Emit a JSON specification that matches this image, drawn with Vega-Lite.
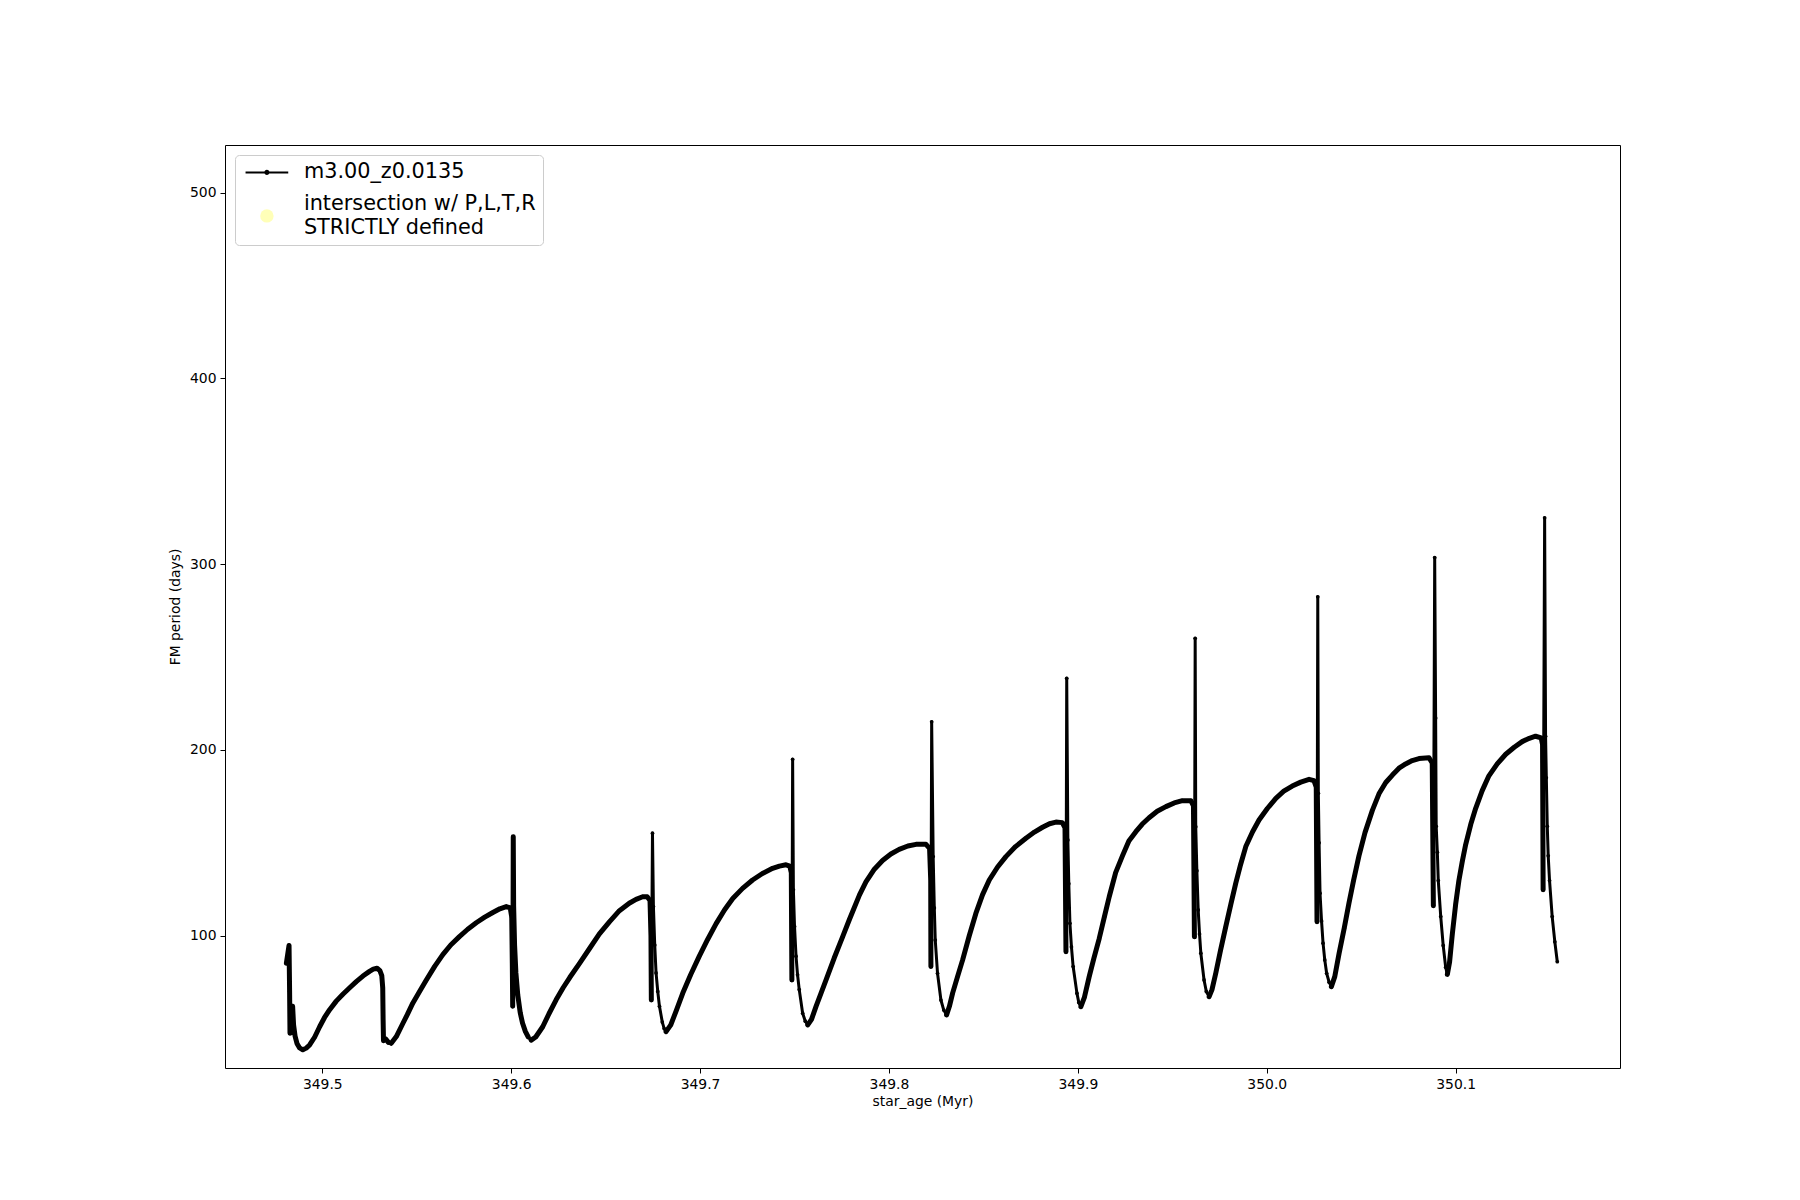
{
  "$schema": "https://vega.github.io/schema/vega-lite/v6.json",
  "width": 1395,
  "height": 923,
  "autosize": {"type": "none"},
  "padding": {"left": 225, "top": 145, "right": 180, "bottom": 132},
  "background": "white",
  "config": {
    "view": {"stroke": "black", "strokeWidth": 1},
    "font": "DejaVu Sans",
    "axis": {"grid": false, "domain": false, "tickColor": "black", "tickSize": 5, "tickWidth": 1, "labelColor": "black", "labelFontSize": 13.9, "labelFont": "DejaVu Sans", "titleFont": "DejaVu Sans", "titleFontSize": 13.9, "titleFontWeight": "normal", "titleColor": "black", "labelPadding": 4}
  },
  "data": {"values": [
    {"age": 349.4810, "period": 85.2, "cycle": 1, "phase": "interpulse"},
    {"age": 349.4824, "period": 94.8, "cycle": 1, "phase": "interpulse"},
    {"age": 349.4827, "period": 70, "cycle": 1, "phase": "interpulse"},
    {"age": 349.4829, "period": 47.5, "cycle": 1, "phase": "interpulse"},
    {"age": 349.4836, "period": 58, "cycle": 1, "phase": "interpulse"},
    {"age": 349.4843, "period": 62, "cycle": 1, "phase": "interpulse"},
    {"age": 349.4848, "period": 52, "cycle": 1, "phase": "interpulse"},
    {"age": 349.4856, "period": 46, "cycle": 1, "phase": "interpulse"},
    {"age": 349.4866, "period": 42, "cycle": 1, "phase": "interpulse"},
    {"age": 349.4880, "period": 39.6, "cycle": 1, "phase": "interpulse"},
    {"age": 349.4897, "period": 38.6, "cycle": 1, "phase": "interpulse"},
    {"age": 349.4915, "period": 39.5, "cycle": 1, "phase": "interpulse"},
    {"age": 349.4933, "period": 41.2, "cycle": 1, "phase": "interpulse"},
    {"age": 349.4960, "period": 45.5, "cycle": 1, "phase": "interpulse"},
    {"age": 349.4986, "period": 51, "cycle": 1, "phase": "interpulse"},
    {"age": 349.5012, "period": 56, "cycle": 1, "phase": "interpulse"},
    {"age": 349.5039, "period": 60.2, "cycle": 1, "phase": "interpulse"},
    {"age": 349.5074, "period": 64.8, "cycle": 1, "phase": "interpulse"},
    {"age": 349.5109, "period": 68.5, "cycle": 1, "phase": "interpulse"},
    {"age": 349.5145, "period": 72, "cycle": 1, "phase": "interpulse"},
    {"age": 349.5180, "period": 75.3, "cycle": 1, "phase": "interpulse"},
    {"age": 349.5215, "period": 78.3, "cycle": 1, "phase": "interpulse"},
    {"age": 349.5250, "period": 80.8, "cycle": 1, "phase": "interpulse"},
    {"age": 349.5270, "period": 82, "cycle": 1, "phase": "interpulse"},
    {"age": 349.5290, "period": 82.5, "cycle": 1, "phase": "interpulse"},
    {"age": 349.5305, "period": 81.2, "cycle": 1, "phase": "interpulse"},
    {"age": 349.5315, "period": 78.5, "cycle": 1, "phase": "interpulse"},
    {"age": 349.5320, "period": 72, "cycle": 1, "phase": "interpulse"},
    {"age": 349.5322, "period": 55, "cycle": 1, "phase": "interpulse"},
    {"age": 349.5324, "period": 43.5, "cycle": 1, "phase": "interpulse"},
    {"age": 349.5335, "period": 44.5, "cycle": 1, "phase": "interpulse"},
    {"age": 349.5350, "period": 42.6, "cycle": 1, "phase": "interpulse"},
    {"age": 349.5365, "period": 42.1, "cycle": 2, "phase": "interpulse"},
    {"age": 349.5392, "period": 45.7, "cycle": 2, "phase": "interpulse"},
    {"age": 349.5427, "period": 52.9, "cycle": 2, "phase": "interpulse"},
    {"age": 349.5450, "period": 57.5, "cycle": 2, "phase": "interpulse"},
    {"age": 349.5479, "period": 63.7, "cycle": 2, "phase": "interpulse"},
    {"age": 349.5515, "period": 70, "cycle": 2, "phase": "interpulse"},
    {"age": 349.5550, "period": 76, "cycle": 2, "phase": "interpulse"},
    {"age": 349.5595, "period": 83.5, "cycle": 2, "phase": "interpulse"},
    {"age": 349.5638, "period": 89.8, "cycle": 2, "phase": "interpulse"},
    {"age": 349.5680, "period": 95, "cycle": 2, "phase": "interpulse"},
    {"age": 349.5726, "period": 99.5, "cycle": 2, "phase": "interpulse"},
    {"age": 349.5770, "period": 103.5, "cycle": 2, "phase": "interpulse"},
    {"age": 349.5815, "period": 107, "cycle": 2, "phase": "interpulse"},
    {"age": 349.5860, "period": 110, "cycle": 2, "phase": "interpulse"},
    {"age": 349.5903, "period": 112.5, "cycle": 2, "phase": "interpulse"},
    {"age": 349.5940, "period": 114.5, "cycle": 2, "phase": "interpulse"},
    {"age": 349.5974, "period": 115.7, "cycle": 2, "phase": "interpulse"},
    {"age": 349.5995, "period": 115, "cycle": 2, "phase": "interpulse"},
    {"age": 349.6003, "period": 110, "cycle": 2, "phase": "interpulse"},
    {"age": 349.6006, "period": 85, "cycle": 2, "phase": "interpulse"},
    {"age": 349.6008, "period": 62, "cycle": 2, "phase": "interpulse"},
    {"age": 349.6010, "period": 110, "cycle": 2, "phase": "interpulse"},
    {"age": 349.6011, "period": 153.3, "cycle": 2, "phase": "interpulse"},
    {"age": 349.6013, "period": 116, "cycle": 2, "phase": "interpulse"},
    {"age": 349.6018, "period": 95, "cycle": 2, "phase": "interpulse"},
    {"age": 349.6025, "period": 80, "cycle": 2, "phase": "interpulse"},
    {"age": 349.6035, "period": 68, "cycle": 2, "phase": "interpulse"},
    {"age": 349.6048, "period": 58.5, "cycle": 2, "phase": "interpulse"},
    {"age": 349.6060, "period": 53, "cycle": 2, "phase": "interpulse"},
    {"age": 349.6075, "period": 48.5, "cycle": 2, "phase": "interpulse"},
    {"age": 349.6090, "period": 45.5, "cycle": 2, "phase": "interpulse"},
    {"age": 349.6106, "period": 43.8, "cycle": 3, "phase": "interpulse"},
    {"age": 349.6130, "period": 45.5, "cycle": 3, "phase": "interpulse"},
    {"age": 349.6167, "period": 51, "cycle": 3, "phase": "interpulse"},
    {"age": 349.6200, "period": 58, "cycle": 3, "phase": "interpulse"},
    {"age": 349.6238, "period": 65.5, "cycle": 3, "phase": "interpulse"},
    {"age": 349.6275, "period": 72, "cycle": 3, "phase": "interpulse"},
    {"age": 349.6310, "period": 77.5, "cycle": 3, "phase": "interpulse"},
    {"age": 349.6361, "period": 85, "cycle": 3, "phase": "interpulse"},
    {"age": 349.6414, "period": 93, "cycle": 3, "phase": "interpulse"},
    {"age": 349.6467, "period": 101, "cycle": 3, "phase": "interpulse"},
    {"age": 349.6520, "period": 107.5, "cycle": 3, "phase": "interpulse"},
    {"age": 349.6573, "period": 113.5, "cycle": 3, "phase": "interpulse"},
    {"age": 349.6625, "period": 117.5, "cycle": 3, "phase": "interpulse"},
    {"age": 349.6661, "period": 119.6, "cycle": 3, "phase": "interpulse"},
    {"age": 349.6696, "period": 121, "cycle": 3, "phase": "interpulse"},
    {"age": 349.6720, "period": 121, "cycle": 3, "phase": "interpulse"},
    {"age": 349.6735, "period": 119, "cycle": 3, "phase": "interpulse"},
    {"age": 349.6740, "period": 100, "cycle": 3, "phase": "interpulse"},
    {"age": 349.6742, "period": 65.4, "cycle": 3, "phase": "interpulse"},
    {"age": 349.6748, "period": 155.2, "cycle": 3, "phase": "pulse"},
    {"age": 349.6753, "period": 115.7, "cycle": 3, "phase": "pulse"},
    {"age": 349.6760, "period": 95, "cycle": 3, "phase": "pulse"},
    {"age": 349.6767, "period": 80, "cycle": 3, "phase": "pulse"},
    {"age": 349.6776, "period": 70, "cycle": 3, "phase": "pulse"},
    {"age": 349.6785, "period": 62, "cycle": 3, "phase": "pulse"},
    {"age": 349.6800, "period": 53.5, "cycle": 3, "phase": "pulse"},
    {"age": 349.6810, "period": 50, "cycle": 3, "phase": "pulse"},
    {"age": 349.6820, "period": 48.4, "cycle": 4, "phase": "interpulse"},
    {"age": 349.6845, "period": 52, "cycle": 4, "phase": "interpulse"},
    {"age": 349.6875, "period": 60, "cycle": 4, "phase": "interpulse"},
    {"age": 349.6908, "period": 69, "cycle": 4, "phase": "interpulse"},
    {"age": 349.6950, "period": 79, "cycle": 4, "phase": "interpulse"},
    {"age": 349.6996, "period": 89, "cycle": 4, "phase": "interpulse"},
    {"age": 349.7040, "period": 98, "cycle": 4, "phase": "interpulse"},
    {"age": 349.7085, "period": 106.5, "cycle": 4, "phase": "interpulse"},
    {"age": 349.7130, "period": 114, "cycle": 4, "phase": "interpulse"},
    {"age": 349.7173, "period": 120, "cycle": 4, "phase": "interpulse"},
    {"age": 349.7225, "period": 125.5, "cycle": 4, "phase": "interpulse"},
    {"age": 349.7278, "period": 130, "cycle": 4, "phase": "interpulse"},
    {"age": 349.7330, "period": 133.5, "cycle": 4, "phase": "interpulse"},
    {"age": 349.7384, "period": 136.3, "cycle": 4, "phase": "interpulse"},
    {"age": 349.7420, "period": 137.5, "cycle": 4, "phase": "interpulse"},
    {"age": 349.7455, "period": 138.2, "cycle": 4, "phase": "interpulse"},
    {"age": 349.7475, "period": 137.5, "cycle": 4, "phase": "interpulse"},
    {"age": 349.7483, "period": 134, "cycle": 4, "phase": "interpulse"},
    {"age": 349.7486, "period": 76.2, "cycle": 4, "phase": "interpulse"},
    {"age": 349.7490, "period": 195, "cycle": 4, "phase": "pulse"},
    {"age": 349.7494, "period": 124.7, "cycle": 4, "phase": "pulse"},
    {"age": 349.7500, "period": 105, "cycle": 4, "phase": "pulse"},
    {"age": 349.7508, "period": 89, "cycle": 4, "phase": "pulse"},
    {"age": 349.7516, "period": 79, "cycle": 4, "phase": "pulse"},
    {"age": 349.7525, "period": 71, "cycle": 4, "phase": "pulse"},
    {"age": 349.7543, "period": 58.3, "cycle": 4, "phase": "pulse"},
    {"age": 349.7557, "period": 54, "cycle": 4, "phase": "pulse"},
    {"age": 349.7570, "period": 52, "cycle": 5, "phase": "interpulse"},
    {"age": 349.7590, "period": 55, "cycle": 5, "phase": "interpulse"},
    {"age": 349.7614, "period": 62, "cycle": 5, "phase": "interpulse"},
    {"age": 349.7640, "period": 69, "cycle": 5, "phase": "interpulse"},
    {"age": 349.7667, "period": 76.2, "cycle": 5, "phase": "interpulse"},
    {"age": 349.7710, "period": 88, "cycle": 5, "phase": "interpulse"},
    {"age": 349.7755, "period": 99.5, "cycle": 5, "phase": "interpulse"},
    {"age": 349.7790, "period": 108.6, "cycle": 5, "phase": "interpulse"},
    {"age": 349.7844, "period": 122, "cycle": 5, "phase": "interpulse"},
    {"age": 349.7878, "period": 129, "cycle": 5, "phase": "interpulse"},
    {"age": 349.7920, "period": 135.5, "cycle": 5, "phase": "interpulse"},
    {"age": 349.7966, "period": 140.5, "cycle": 5, "phase": "interpulse"},
    {"age": 349.8010, "period": 144, "cycle": 5, "phase": "interpulse"},
    {"age": 349.8054, "period": 146.5, "cycle": 5, "phase": "interpulse"},
    {"age": 349.8100, "period": 148.3, "cycle": 5, "phase": "interpulse"},
    {"age": 349.8143, "period": 149.2, "cycle": 5, "phase": "interpulse"},
    {"age": 349.8196, "period": 149.2, "cycle": 5, "phase": "interpulse"},
    {"age": 349.8215, "period": 147, "cycle": 5, "phase": "interpulse"},
    {"age": 349.8221, "period": 130, "cycle": 5, "phase": "interpulse"},
    {"age": 349.8222, "period": 83.4, "cycle": 5, "phase": "interpulse"},
    {"age": 349.8226, "period": 215.2, "cycle": 5, "phase": "pulse"},
    {"age": 349.8234, "period": 142.6, "cycle": 5, "phase": "pulse"},
    {"age": 349.8240, "period": 115, "cycle": 5, "phase": "pulse"},
    {"age": 349.8245, "period": 97.7, "cycle": 5, "phase": "pulse"},
    {"age": 349.8257, "period": 79.8, "cycle": 5, "phase": "pulse"},
    {"age": 349.8275, "period": 65.4, "cycle": 5, "phase": "pulse"},
    {"age": 349.8290, "period": 60, "cycle": 5, "phase": "pulse"},
    {"age": 349.8305, "period": 57.4, "cycle": 6, "phase": "interpulse"},
    {"age": 349.8320, "period": 62, "cycle": 6, "phase": "interpulse"},
    {"age": 349.8337, "period": 69.1, "cycle": 6, "phase": "interpulse"},
    {"age": 349.8363, "period": 78, "cycle": 6, "phase": "interpulse"},
    {"age": 349.8390, "period": 87, "cycle": 6, "phase": "interpulse"},
    {"age": 349.8425, "period": 100, "cycle": 6, "phase": "interpulse"},
    {"age": 349.8460, "period": 112, "cycle": 6, "phase": "interpulse"},
    {"age": 349.8495, "period": 122, "cycle": 6, "phase": "interpulse"},
    {"age": 349.8531, "period": 130, "cycle": 6, "phase": "interpulse"},
    {"age": 349.8575, "period": 137, "cycle": 6, "phase": "interpulse"},
    {"age": 349.8619, "period": 142.6, "cycle": 6, "phase": "interpulse"},
    {"age": 349.8670, "period": 148, "cycle": 6, "phase": "interpulse"},
    {"age": 349.8725, "period": 152.5, "cycle": 6, "phase": "interpulse"},
    {"age": 349.8770, "period": 155.8, "cycle": 6, "phase": "interpulse"},
    {"age": 349.8813, "period": 158.4, "cycle": 6, "phase": "interpulse"},
    {"age": 349.8850, "period": 160.3, "cycle": 6, "phase": "interpulse"},
    {"age": 349.8884, "period": 161.2, "cycle": 6, "phase": "interpulse"},
    {"age": 349.8918, "period": 160.9, "cycle": 6, "phase": "interpulse"},
    {"age": 349.8932, "period": 158, "cycle": 6, "phase": "interpulse"},
    {"age": 349.8937, "period": 91.4, "cycle": 6, "phase": "interpulse"},
    {"age": 349.8941, "period": 238.6, "cycle": 6, "phase": "pulse"},
    {"age": 349.8947, "period": 151.6, "cycle": 6, "phase": "pulse"},
    {"age": 349.8952, "period": 128, "cycle": 6, "phase": "pulse"},
    {"age": 349.8958, "period": 106.7, "cycle": 6, "phase": "pulse"},
    {"age": 349.8966, "period": 94, "cycle": 6, "phase": "pulse"},
    {"age": 349.8975, "period": 83.4, "cycle": 6, "phase": "pulse"},
    {"age": 349.8995, "period": 69.1, "cycle": 6, "phase": "pulse"},
    {"age": 349.9005, "period": 64, "cycle": 6, "phase": "pulse"},
    {"age": 349.9016, "period": 61.8, "cycle": 7, "phase": "interpulse"},
    {"age": 349.9035, "period": 67, "cycle": 7, "phase": "interpulse"},
    {"age": 349.9060, "period": 78, "cycle": 7, "phase": "interpulse"},
    {"age": 349.9085, "period": 88, "cycle": 7, "phase": "interpulse"},
    {"age": 349.9113, "period": 98.5, "cycle": 7, "phase": "interpulse"},
    {"age": 349.9140, "period": 110, "cycle": 7, "phase": "interpulse"},
    {"age": 349.9166, "period": 121, "cycle": 7, "phase": "interpulse"},
    {"age": 349.9200, "period": 134, "cycle": 7, "phase": "interpulse"},
    {"age": 349.9236, "period": 143, "cycle": 7, "phase": "interpulse"},
    {"age": 349.9270, "period": 151, "cycle": 7, "phase": "interpulse"},
    {"age": 349.9307, "period": 156, "cycle": 7, "phase": "interpulse"},
    {"age": 349.9340, "period": 160, "cycle": 7, "phase": "interpulse"},
    {"age": 349.9377, "period": 163.5, "cycle": 7, "phase": "interpulse"},
    {"age": 349.9420, "period": 167, "cycle": 7, "phase": "interpulse"},
    {"age": 349.9466, "period": 169.5, "cycle": 7, "phase": "interpulse"},
    {"age": 349.9510, "period": 171.5, "cycle": 7, "phase": "interpulse"},
    {"age": 349.9553, "period": 172.7, "cycle": 7, "phase": "interpulse"},
    {"age": 349.9598, "period": 172.7, "cycle": 7, "phase": "interpulse"},
    {"age": 349.9612, "period": 170, "cycle": 7, "phase": "interpulse"},
    {"age": 349.9617, "period": 99.5, "cycle": 7, "phase": "interpulse"},
    {"age": 349.9621, "period": 260.1, "cycle": 7, "phase": "pulse"},
    {"age": 349.9624, "period": 158.7, "cycle": 7, "phase": "pulse"},
    {"age": 349.9630, "period": 135, "cycle": 7, "phase": "pulse"},
    {"age": 349.9637, "period": 113.9, "cycle": 7, "phase": "pulse"},
    {"age": 349.9644, "period": 101, "cycle": 7, "phase": "pulse"},
    {"age": 349.9651, "period": 90.6, "cycle": 7, "phase": "pulse"},
    {"age": 349.9668, "period": 76.2, "cycle": 7, "phase": "pulse"},
    {"age": 349.9680, "period": 70, "cycle": 7, "phase": "pulse"},
    {"age": 349.9695, "period": 67.2, "cycle": 8, "phase": "interpulse"},
    {"age": 349.9710, "period": 71, "cycle": 8, "phase": "interpulse"},
    {"age": 349.9730, "period": 79.8, "cycle": 8, "phase": "interpulse"},
    {"age": 349.9755, "period": 92, "cycle": 8, "phase": "interpulse"},
    {"age": 349.9783, "period": 104.9, "cycle": 8, "phase": "interpulse"},
    {"age": 349.9810, "period": 117, "cycle": 8, "phase": "interpulse"},
    {"age": 349.9836, "period": 128.3, "cycle": 8, "phase": "interpulse"},
    {"age": 349.9862, "period": 138.5, "cycle": 8, "phase": "interpulse"},
    {"age": 349.9889, "period": 148, "cycle": 8, "phase": "interpulse"},
    {"age": 349.9925, "period": 156, "cycle": 8, "phase": "interpulse"},
    {"age": 349.9959, "period": 162.3, "cycle": 8, "phase": "interpulse"},
    {"age": 350.0003, "period": 168.5, "cycle": 8, "phase": "interpulse"},
    {"age": 350.0048, "period": 174, "cycle": 8, "phase": "interpulse"},
    {"age": 350.0090, "period": 177.8, "cycle": 8, "phase": "interpulse"},
    {"age": 350.0135, "period": 180.6, "cycle": 8, "phase": "interpulse"},
    {"age": 350.0180, "period": 182.7, "cycle": 8, "phase": "interpulse"},
    {"age": 350.0224, "period": 184.2, "cycle": 8, "phase": "interpulse"},
    {"age": 350.0250, "period": 183.5, "cycle": 8, "phase": "interpulse"},
    {"age": 350.0262, "period": 180, "cycle": 8, "phase": "interpulse"},
    {"age": 350.0266, "period": 107.6, "cycle": 8, "phase": "interpulse"},
    {"age": 350.0270, "period": 282.5, "cycle": 8, "phase": "pulse"},
    {"age": 350.0273, "period": 176.7, "cycle": 8, "phase": "pulse"},
    {"age": 350.0277, "period": 150, "cycle": 8, "phase": "pulse"},
    {"age": 350.0282, "period": 122.9, "cycle": 8, "phase": "pulse"},
    {"age": 350.0290, "period": 108, "cycle": 8, "phase": "pulse"},
    {"age": 350.0298, "period": 96, "cycle": 8, "phase": "pulse"},
    {"age": 350.0307, "period": 87, "cycle": 8, "phase": "pulse"},
    {"age": 350.0317, "period": 79.8, "cycle": 8, "phase": "pulse"},
    {"age": 350.0330, "period": 75, "cycle": 8, "phase": "pulse"},
    {"age": 350.0342, "period": 72.6, "cycle": 9, "phase": "interpulse"},
    {"age": 350.0360, "period": 78, "cycle": 9, "phase": "interpulse"},
    {"age": 350.0383, "period": 90.6, "cycle": 9, "phase": "interpulse"},
    {"age": 350.0410, "period": 104, "cycle": 9, "phase": "interpulse"},
    {"age": 350.0435, "period": 117.5, "cycle": 9, "phase": "interpulse"},
    {"age": 350.0460, "period": 130, "cycle": 9, "phase": "interpulse"},
    {"age": 350.0488, "period": 143, "cycle": 9, "phase": "interpulse"},
    {"age": 350.0520, "period": 155.5, "cycle": 9, "phase": "interpulse"},
    {"age": 350.0559, "period": 167.5, "cycle": 9, "phase": "interpulse"},
    {"age": 350.0594, "period": 176.4, "cycle": 9, "phase": "interpulse"},
    {"age": 350.0630, "period": 182.5, "cycle": 9, "phase": "interpulse"},
    {"age": 350.0665, "period": 186.5, "cycle": 9, "phase": "interpulse"},
    {"age": 350.0700, "period": 190.2, "cycle": 9, "phase": "interpulse"},
    {"age": 350.0735, "period": 192.5, "cycle": 9, "phase": "interpulse"},
    {"age": 350.0770, "period": 194.3, "cycle": 9, "phase": "interpulse"},
    {"age": 350.0806, "period": 195.4, "cycle": 9, "phase": "interpulse"},
    {"age": 350.0859, "period": 195.8, "cycle": 9, "phase": "interpulse"},
    {"age": 350.0876, "period": 193, "cycle": 9, "phase": "interpulse"},
    {"age": 350.0882, "period": 116.1, "cycle": 9, "phase": "interpulse"},
    {"age": 350.0889, "period": 303.6, "cycle": 9, "phase": "pulse"},
    {"age": 350.0894, "period": 217.2, "cycle": 9, "phase": "pulse"},
    {"age": 350.0897, "period": 158.9, "cycle": 9, "phase": "pulse"},
    {"age": 350.0903, "period": 145, "cycle": 9, "phase": "pulse"},
    {"age": 350.0908, "period": 129.7, "cycle": 9, "phase": "pulse"},
    {"age": 350.0921, "period": 110.3, "cycle": 9, "phase": "pulse"},
    {"age": 350.0934, "period": 94.8, "cycle": 9, "phase": "pulse"},
    {"age": 350.0947, "period": 83.1, "cycle": 9, "phase": "pulse"},
    {"age": 350.0956, "period": 79.2, "cycle": 10, "phase": "interpulse"},
    {"age": 350.0968, "period": 86, "cycle": 10, "phase": "interpulse"},
    {"age": 350.0982, "period": 100.6, "cycle": 10, "phase": "interpulse"},
    {"age": 350.1000, "period": 117, "cycle": 10, "phase": "interpulse"},
    {"age": 350.1017, "period": 129.7, "cycle": 10, "phase": "interpulse"},
    {"age": 350.1035, "period": 140, "cycle": 10, "phase": "interpulse"},
    {"age": 350.1053, "period": 149.1, "cycle": 10, "phase": "interpulse"},
    {"age": 350.1080, "period": 160, "cycle": 10, "phase": "interpulse"},
    {"age": 350.1106, "period": 168.6, "cycle": 10, "phase": "interpulse"},
    {"age": 350.1140, "period": 178, "cycle": 10, "phase": "interpulse"},
    {"age": 350.1176, "period": 186.1, "cycle": 10, "phase": "interpulse"},
    {"age": 350.1220, "period": 192.5, "cycle": 10, "phase": "interpulse"},
    {"age": 350.1265, "period": 197.7, "cycle": 10, "phase": "interpulse"},
    {"age": 350.1310, "period": 201.5, "cycle": 10, "phase": "interpulse"},
    {"age": 350.1352, "period": 204.5, "cycle": 10, "phase": "interpulse"},
    {"age": 350.1390, "period": 206.3, "cycle": 10, "phase": "interpulse"},
    {"age": 350.1423, "period": 207.4, "cycle": 10, "phase": "interpulse"},
    {"age": 350.1453, "period": 206.5, "cycle": 10, "phase": "interpulse"},
    {"age": 350.1460, "period": 203, "cycle": 10, "phase": "interpulse"},
    {"age": 350.1463, "period": 124.7, "cycle": 10, "phase": "interpulse"},
    {"age": 350.1471, "period": 325, "cycle": 10, "phase": "pulse"},
    {"age": 350.1476, "period": 207.4, "cycle": 10, "phase": "pulse"},
    {"age": 350.1480, "period": 185, "cycle": 10, "phase": "pulse"},
    {"age": 350.1485, "period": 158.9, "cycle": 10, "phase": "pulse"},
    {"age": 350.1490, "period": 143, "cycle": 10, "phase": "pulse"},
    {"age": 350.1497, "period": 129.7, "cycle": 10, "phase": "pulse"},
    {"age": 350.1511, "period": 110.3, "cycle": 10, "phase": "pulse"},
    {"age": 350.1525, "period": 96.7, "cycle": 10, "phase": "pulse"},
    {"age": 350.1538, "period": 86, "cycle": 10, "phase": "pulse"}
  ]},
  "layer": [
    {
      "mark": {"type": "line", "strokeWidth": 3, "strokeJoin": "round", "clip": true},
      "encoding": {
        "x": {"field": "age", "type": "quantitative",
              "scale": {"domain": [349.4485, 350.187], "nice": false, "zero": false},
              "axis": {"values": [349.5, 349.6, 349.7, 349.8, 349.9, 350.0, 350.1], "format": ".1f", "title": "star_age (Myr)", "labelFlush": false, "titlePadding": 4}},
        "y": {"field": "period", "type": "quantitative",
              "scale": {"domain": [28.8, 525.7], "nice": false, "zero": false},
              "axis": {"values": [100, 200, 300, 400, 500], "title": "FM period (days)", "labelFlush": false, "titlePadding": 7}},
        "color": {
          "datum": "m3.00_z0.0135",
          "scale": {"domain": ["m3.00_z0.0135", "intersection w/ P,L,T,R STRICTLY defined"], "range": ["#000000", "#ffffb8"]},
          "legend": {
            "orient": "top-left", "offset": 10, "title": null,
            "padding": 7, "strokeColor": "#cccccc", "fillColor": "white", "cornerRadius": 4,
            "labelFont": "DejaVu Sans", "labelFontSize": 20.8, "labelColor": "black", "labelLimit": 0,
            "symbolSize": 196, "symbolOffset": 14.5, "labelOffset": 26.6, "rowPadding": 9.5,
            "labelExpr": "datum.value == 'm3.00_z0.0135' ? datum.label : ['intersection w/ P,L,T,R', 'STRICTLY defined']",
            "encode": {
              "symbols": {"update": {
                "shape": {"signal": "datum.value == 'm3.00_z0.0135' ? 'M-3.05,0H3.05M-0.22,0A0.22,0.22,0,1,1,0.22,0A0.22,0.22,0,1,1,-0.22,0' : 'circle'"},
                "size": {"signal": "datum.value == 'm3.00_z0.0135' ? 196 : 180"},
                "fill": {"signal": "datum.value == 'm3.00_z0.0135' ? 'black' : '#ffffb8'"},
                "stroke": {"signal": "datum.value == 'm3.00_z0.0135' ? 'black' : '#ffffb8'"},
                "strokeWidth": {"signal": "datum.value == 'm3.00_z0.0135' ? 2 : 0"},
                "opacity": {"value": 1}
              }},
              "labels": {"update": {
                "lineHeight": {"value": 23.5},
                "dy": {"signal": "datum.value == 'm3.00_z0.0135' ? 0 : -11.75"}
              }}
            }
          }
        }
      }
    },
    {
      "transform": [{"filter": "datum.phase == 'interpulse'"}],
      "mark": {"type": "line", "strokeWidth": 5, "color": "black", "strokeJoin": "round", "strokeCap": "round", "clip": true},
      "encoding": {
        "x": {"field": "age", "type": "quantitative"},
        "y": {"field": "period", "type": "quantitative"},
        "detail": {"field": "cycle", "type": "nominal"}
      }
    },
    {
      "mark": {"type": "point", "filled": true, "size": 14, "color": "black", "opacity": 1, "clip": true},
      "encoding": {
        "x": {"field": "age", "type": "quantitative"},
        "y": {"field": "period", "type": "quantitative"}
      }
    }
  ]
}
